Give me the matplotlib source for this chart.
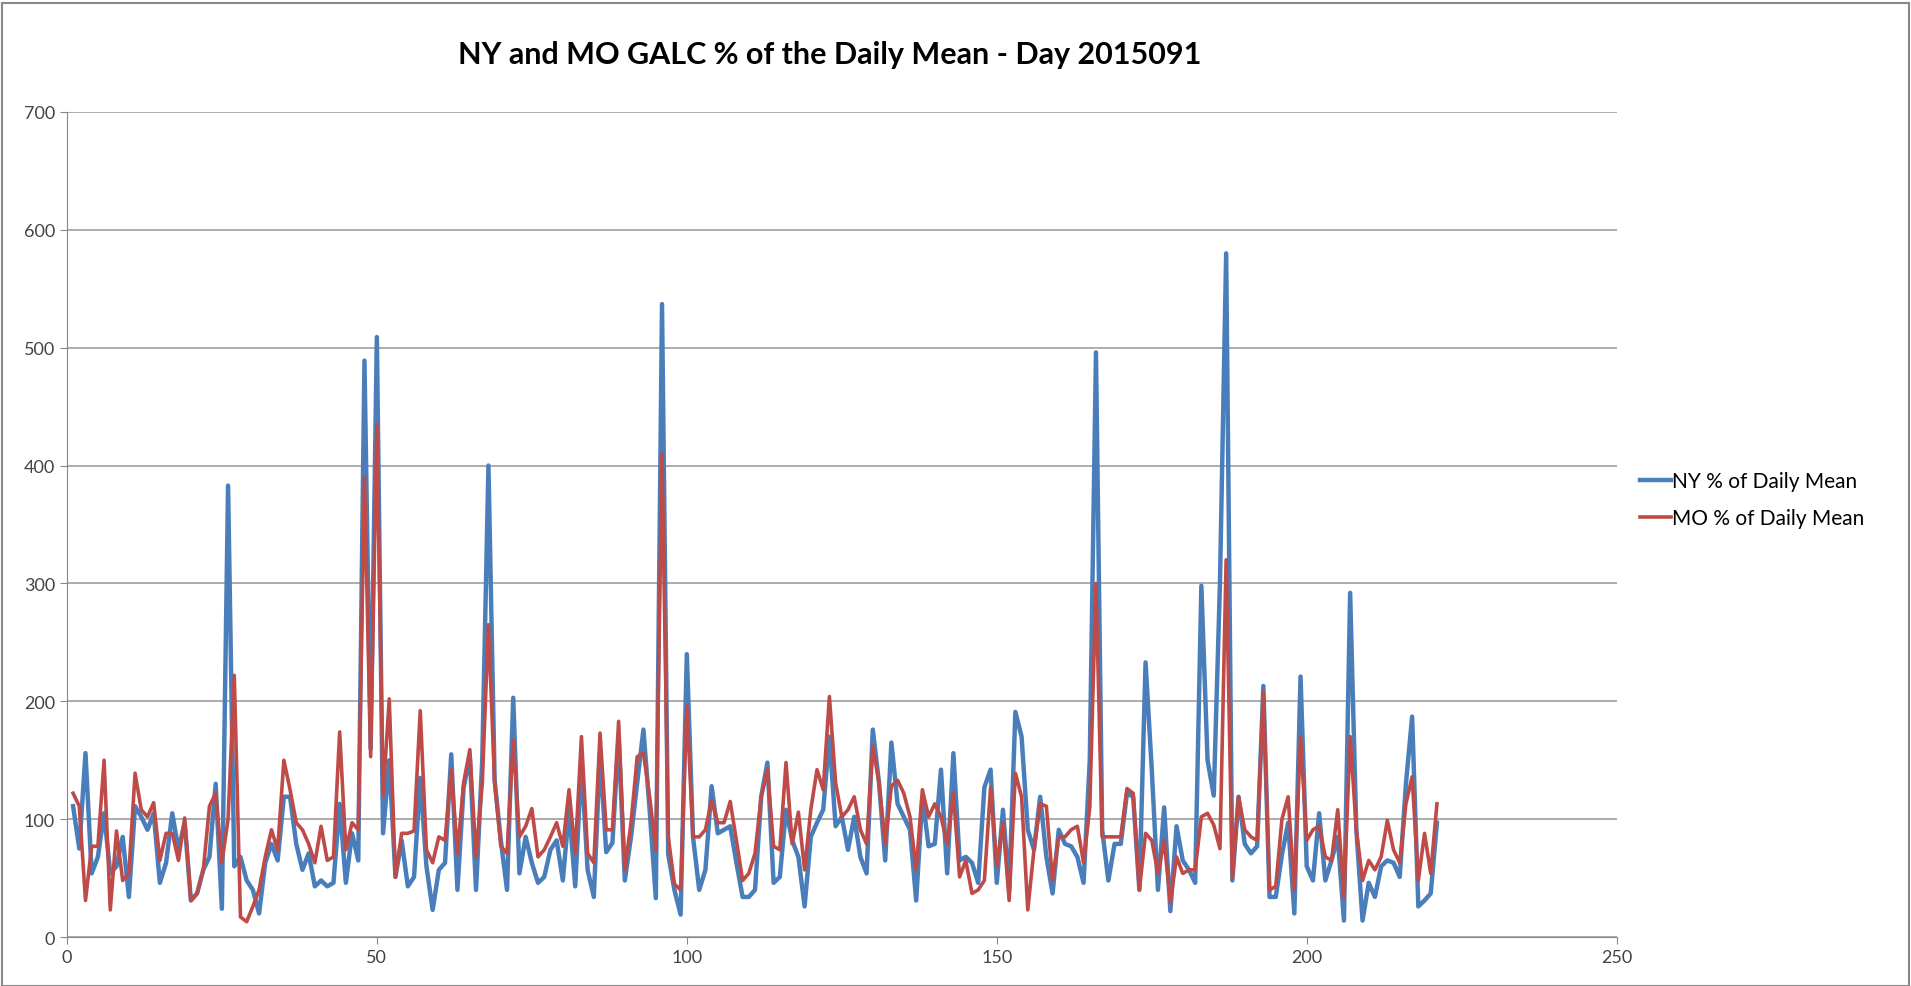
import numpy as np
import matplotlib.pyplot as plt
from matplotlib.patches import Rectangle

# values, index 1..221
ny_pct = [
    111, 75, 156, 54, 68, 105, 54, 60, 85, 34,
    111, 102, 91, 105, 46, 63, 105, 74, 97, 31,
    37, 57, 68, 130, 24, 383, 60, 68, 48, 40,
    20, 63, 79, 65, 119, 119, 79, 57, 71, 43,
    48, 43, 46, 113, 46, 88, 65, 489, 160, 509,
    88, 150, 51, 82, 43, 51, 135, 60, 23, 57,
    63, 155, 40, 127, 153, 40, 150, 400, 133, 82,
    40, 203, 54, 85, 63, 46, 51, 74, 82, 48,
    108, 43, 148, 57, 34, 156, 72, 80, 170, 48,
    85, 131, 176, 108, 33, 537, 70, 40, 19, 240,
    85, 40, 57, 128, 88, 91, 94, 63, 34, 34,
    40, 119, 148, 46, 51, 108, 82, 68, 26, 85,
    97, 108, 170, 94, 102, 74, 102, 68, 54, 176,
    131, 65, 165, 113, 102, 91, 31, 119, 77, 79,
    142, 54, 156, 65, 68, 63, 46, 127, 142, 46,
    108, 40, 191, 170, 91, 74, 119, 68, 37, 91,
    79, 77, 68, 46, 150, 496, 91, 48, 79, 79,
    122, 119, 40, 233, 142, 40, 110, 22, 94, 65,
    57, 46, 298, 150, 120, 300, 580, 48, 119, 79,
    71, 77, 213, 34, 34, 70, 97, 20, 221, 60,
    48, 105, 48, 65, 85, 14, 292, 91, 14, 46,
    34, 60, 65, 63, 51, 130, 187, 26, 31, 37,
    97,
]
mo_pct = [
    122, 111, 31, 77, 77, 150, 23, 90, 48, 54,
    139, 108, 102, 114, 65, 88, 88, 65, 101, 31,
    37, 57, 111, 122, 63, 100, 222, 17, 13, 26,
    40, 68, 91, 74, 150, 125, 97, 91, 79, 63,
    94, 65, 68, 174, 74, 97, 91, 390, 153, 435,
    120, 202, 51, 88, 88, 90, 192, 74, 63, 85,
    82, 142, 71, 131, 159, 68, 130, 265, 131, 77,
    71, 167, 85, 94, 109, 68, 74, 85, 97, 77,
    125, 71, 170, 71, 63, 173, 91, 91, 183, 57,
    97, 153, 156, 119, 74, 410, 85, 45, 40, 196,
    85, 85, 91, 116, 97, 97, 115, 82, 48, 54,
    71, 119, 142, 77, 74, 148, 79, 106, 57, 108,
    142, 125, 204, 131, 102, 108, 119, 91, 79, 162,
    131, 79, 128, 133, 122, 102, 57, 125, 102, 113,
    102, 79, 122, 51, 65, 37, 40, 48, 127, 60,
    97, 31, 139, 119, 23, 74, 113, 111, 48, 85,
    85, 91, 94, 63, 110, 300, 85, 85, 85, 85,
    126, 122, 40, 88, 82, 54, 82, 29, 68, 54,
    57, 57, 102, 105, 95, 75, 320, 50, 119, 91,
    85, 82, 208, 40, 43, 100, 119, 40, 170, 82,
    91, 94, 68, 65, 108, 34, 170, 91, 48, 65,
    57, 68, 99, 74, 63, 113, 136, 48, 88, 54,
    113,
]
idx = np.arange(1, len(ny_pct) + 1)

plt.rcParams['font.family'] = ['Lato', 'DejaVu Sans']

fig = plt.figure(figsize=(19.11, 9.87), dpi=100)
ax = fig.add_axes([0.035, 0.0496, 0.811, 0.836])

ax.plot(idx, ny_pct, color='#4A7EBB', lw=3.2, label='NY % of Daily Mean')
ax.plot(idx, mo_pct, color='#BE4B48', lw=2.6, label='MO % of Daily Mean')

ax.set_xlim(0, 250)
ax.set_ylim(0, 700)
ax.set_xticks(range(0, 251, 50))
ax.set_yticks(range(0, 701, 100))
ax.yaxis.grid(True, color='#a6a6a6', lw=1.3)
ax.set_axisbelow(True)
for s in ('top', 'right'):
    ax.spines[s].set_visible(False)
for s in ('left', 'bottom'):
    ax.spines[s].set_color('#888888')
ax.tick_params(colors='#888888', labelcolor='#444444', labelsize=13, length=5)

fig.text(0.434, 0.944, 'NY and MO GALC % of the Daily Mean - Day 2015091',
         ha='center', va='center', fontsize=22, fontweight='bold')

ax.legend(loc='center left', bbox_to_anchor=(1.003, 0.53), frameon=False,
          fontsize=15, handlelength=1.5, handletextpad=0.05, labelspacing=0.8)

fig.patches.append(Rectangle((0.001, 0.0), 0.998, 0.996, transform=fig.transFigure,
                             fill=False, edgecolor='#888888', lw=1.5))

fig.savefig('out.png', dpi=100)
